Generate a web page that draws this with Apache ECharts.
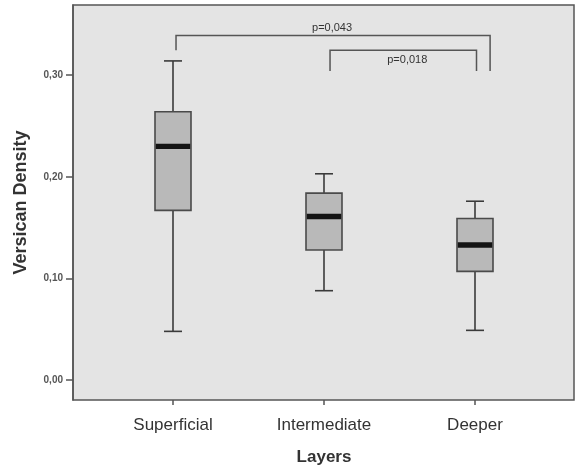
<!DOCTYPE html>
<html>
<head>
<meta charset="utf-8">
<script src="https://cdn.jsdelivr.net/npm/echarts@6/dist/echarts.min.js"></script>
<style>
  html, body { margin: 0; padding: 0; background: #ffffff; }
  #chart { width: 576px; height: 465px; }
</style>
</head>
<body>
<div id="chart"></div>
<script>
// Layer names on the x axis
const categories = ['Superficial', 'Intermediate', 'Deeper'];
// Five-number summaries per layer: [lower whisker, Q1, median, Q3, upper whisker]
const lowerWhisker = [0.048, 0.088, 0.049];
const quartile1 = [0.167, 0.128, 0.107];
const medians = [0.230, 0.161, 0.133];
const quartile3 = [0.264, 0.184, 0.159];
const upperWhisker = [0.314, 0.203, 0.176];
// Y axis tick values and labels
const yTicks = [0, 0.1, 0.2, 0.3];
const yTickLabels = ['0,00', '0,10', '0,20', '0,30'];
// Significance brackets: start / end positions in category units, bar level, leg ends, label
const bracketFrom = [0.02, 1.04];
const bracketTo = [2.1, 2.01];
const bracketLevel = [0.339, 0.3245];
const bracketLeftEnd = [0.3245, 0.304];
const bracketRightEnd = [0.304, 0.304];
const bracketText = ['p=0,043', 'p=0,018'];
const bracketTextAbove = [true, false];

const Y_MIN = -0.0195, Y_MAX = 0.369;
const FONT = 'Liberation Sans, Arial, sans-serif';

const boxData = categories.map((c, i) => [i, lowerWhisker[i], quartile1[i], medians[i], quartile3[i], upperWhisker[i]]);
const bracketData = bracketFrom.map((f, i) => [f, bracketTo[i], bracketLevel[i], bracketLeftEnd[i], bracketRightEnd[i], i]);

const chart = echarts.init(document.getElementById('chart'), null, { renderer: 'canvas' });

function renderBox(params, api) {
  const x = api.value(0);
  const pLow = api.coord([x, api.value(1)]);
  const pQ1 = api.coord([x, api.value(2)]);
  const pMed = api.coord([x, api.value(3)]);
  const pQ3 = api.coord([x, api.value(4)]);
  const pHigh = api.coord([x, api.value(5)]);
  const cx = pMed[0];
  const boxW = 36, capW = 18;
  const stroke = { stroke: '#3a3a3a', lineWidth: 1.6 };
  return {
    type: 'group',
    children: [
      { type: 'line', shape: { x1: cx, y1: pHigh[1], x2: cx, y2: pQ3[1] }, style: stroke },
      { type: 'line', shape: { x1: cx, y1: pQ1[1], x2: cx, y2: pLow[1] }, style: stroke },
      { type: 'line', shape: { x1: cx - capW / 2, y1: pHigh[1], x2: cx + capW / 2, y2: pHigh[1] }, style: stroke },
      { type: 'line', shape: { x1: cx - capW / 2, y1: pLow[1], x2: cx + capW / 2, y2: pLow[1] }, style: stroke },
      { type: 'rect', shape: { x: cx - boxW / 2, y: pQ3[1], width: boxW, height: pQ1[1] - pQ3[1] },
        style: { fill: '#b9b9b9', stroke: '#4a4a4a', lineWidth: 1.6 } },
      { type: 'rect', shape: { x: cx - boxW / 2 + 0.8, y: pMed[1] - 2.7, width: boxW - 1.6, height: 5.4 },
        style: { fill: '#141414' } }
    ]
  };
}

// Category axis positions are whole indices; fractional positions are placed by band width
function catX(api, pos) {
  const base = Math.floor(pos);
  const band = api.size([1, 0])[0];
  return api.coord([base, 0])[0] + (pos - base) * band;
}

function renderBracket(params, api) {
  const idx = api.value(5);
  const xL = catX(api, api.value(0));
  const xR = catX(api, api.value(1));
  const yBar = api.coord([0, api.value(2)])[1];
  const yLe = api.coord([0, api.value(3)])[1];
  const yRe = api.coord([0, api.value(4)])[1];
  const stroke = { stroke: '#555555', lineWidth: 1.5, fill: null };
  const above = bracketTextAbove[idx];
  return {
    type: 'group',
    children: [
      { type: 'polyline', shape: { points: [[xL, yLe], [xL, yBar], [xR, yBar], [xR, yRe]] }, style: stroke },
      { type: 'text', x: (xL + xR) / 2 + (above ? -1 : 4), y: above ? yBar - 8 : yBar + 10,
        style: { text: bracketText[idx], fill: '#333333', font: '11px ' + FONT, align: 'center', verticalAlign: 'middle' } }
    ]
  };
}

chart.setOption({
  backgroundColor: '#ffffff',
  animation: false,
  grid: [
    { left: 73, top: 5, width: 501, height: 395, show: true, backgroundColor: '#e4e4e4',
      borderColor: '#555555', borderWidth: 1.5, containLabel: false, outerBoundsMode: 'none' },
    { left: 97.5, top: 5, width: 453, height: 395, containLabel: false, outerBoundsMode: 'none' }
  ],
  xAxis: [
    { gridIndex: 0, type: 'value', min: 0, max: 1, show: false },
    { gridIndex: 1, type: 'category', data: categories, boundaryGap: true, position: 'bottom',
      axisLine: { show: false, onZero: false },
      axisTick: { show: true, alignWithLabel: true, length: 5, lineStyle: { color: '#555555', width: 1.5 } },
      axisLabel: { margin: 17, color: '#333333', fontSize: 17, fontFamily: FONT },
      name: 'Layers', nameLocation: 'middle', nameGap: 49,
      nameTextStyle: { fontSize: 17, fontWeight: 'bold', color: '#333333', fontFamily: FONT } }
  ],
  yAxis: [
    { gridIndex: 0, type: 'value', min: Y_MIN, max: Y_MAX,
      axisLine: { show: true, lineStyle: { color: '#555555', width: 1.5 } },
      axisTick: { show: true, inside: false, length: 7, customValues: yTicks, lineStyle: { color: '#555555', width: 1.5 } },
      axisLabel: { show: true, margin: 10, customValues: yTicks, color: '#555555', fontSize: 10, fontWeight: 'bold', fontFamily: FONT,
        formatter: v => { const k = yTicks.findIndex(t => Math.abs(t - v) < 1e-9); return k >= 0 ? yTickLabels[k] : ''; } },
      splitLine: { show: false },
      name: 'Versican Density', nameLocation: 'middle', nameRotate: 90, nameGap: 43,
      nameTextStyle: { fontSize: 18, fontWeight: 'bold', color: '#333333', fontFamily: FONT } },
    { gridIndex: 1, type: 'value', min: Y_MIN, max: Y_MAX, show: false }
  ],
  series: [
    { type: 'custom', xAxisIndex: 1, yAxisIndex: 1, data: boxData, renderItem: renderBox,
      encode: { x: 0, y: [1, 2, 3, 4, 5] }, clip: false },
    { type: 'custom', xAxisIndex: 1, yAxisIndex: 1, data: bracketData, renderItem: renderBracket,
      encode: { x: [0, 1], y: [2, 3, 4] }, clip: false }
  ]
});
</script>
</body>
</html>
